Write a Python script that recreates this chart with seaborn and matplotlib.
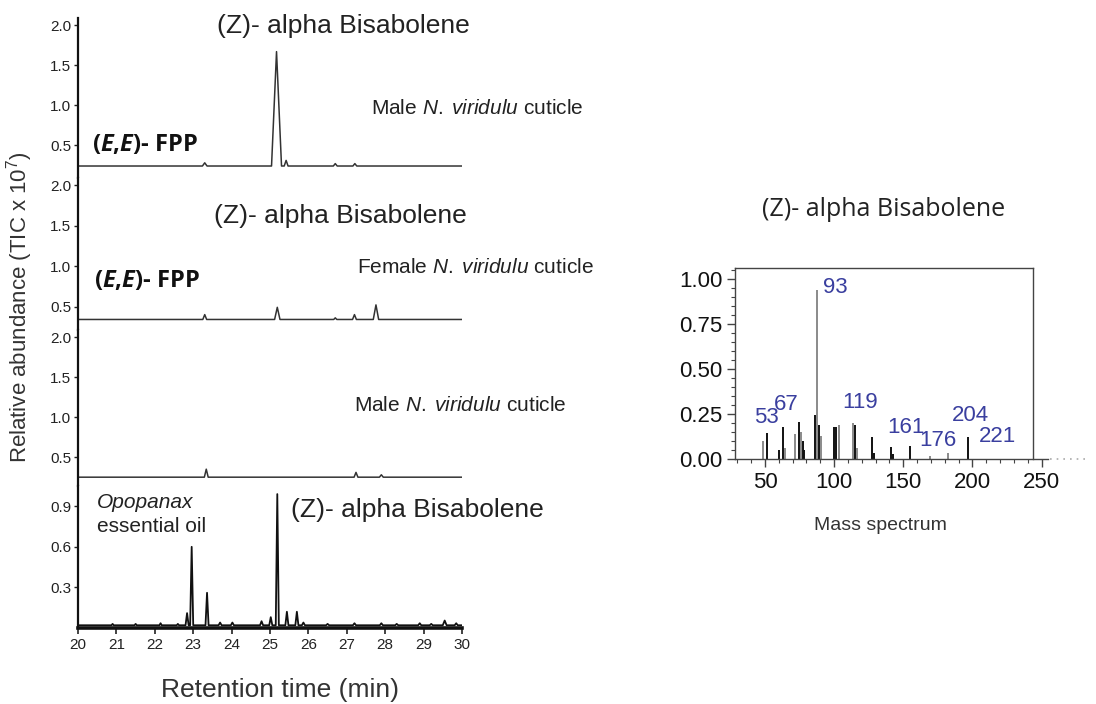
import numpy as np
import pandas as pd
import matplotlib
matplotlib.use("Agg")
import matplotlib.pyplot as plt
import seaborn as sns

# chromatogram peaks: apex retention time (min), apex height (TIC x 1e7), half width (min)
male_top_base = 0.24
male_top_rt = [23.3, 25.17, 25.42, 26.7, 27.21]
male_top_height = [0.28, 1.67, 0.31, 0.27, 0.27]
male_top_half = [0.06, 0.13, 0.05, 0.05, 0.05]

female_base = 0.34
female_rt = [23.3, 25.19, 26.7, 27.2, 27.76]
female_height = [0.40, 0.49, 0.36, 0.40, 0.52]
female_half = [0.05, 0.07, 0.04, 0.05, 0.07]

male_bottom_base = 0.25
male_bottom_rt = [23.34, 27.24, 27.9]
male_bottom_height = [0.35, 0.31, 0.28]
male_bottom_half = [0.05, 0.05, 0.05]

oil_base = 0.02
oil_rt = [20.9, 21.5, 22.15, 22.6, 22.84, 22.96, 23.36, 23.7, 24.02, 24.78, 25.02, 25.19,
          25.44, 25.7, 25.87, 26.5, 27.2, 27.9, 28.3, 28.9, 29.2, 29.55, 29.85]
oil_height = [0.03, 0.03, 0.035, 0.03, 0.11, 0.60, 0.26, 0.04, 0.04, 0.05, 0.08, 0.99,
              0.12, 0.12, 0.04, 0.03, 0.035, 0.035, 0.03, 0.035, 0.03, 0.055, 0.035]
oil_half = [0.03, 0.03, 0.03, 0.03, 0.04, 0.04, 0.04, 0.04, 0.04, 0.04, 0.04, 0.04,
            0.04, 0.04, 0.04, 0.04, 0.04, 0.04, 0.04, 0.04, 0.04, 0.05, 0.04]

# mass spectrum, black and grey stick series (m/z, relative intensity)
ms_black_mz = [51.2, 60.4, 63.2, 74.6, 77.2, 78.2, 86.4, 88.8, 100.1, 101.1, 115.1,
               127.2, 128.8, 140.9, 142.4, 154.8, 197.0]
ms_black_int = [0.145, 0.05, 0.175, 0.205, 0.10, 0.05, 0.245, 0.19, 0.175, 0.175, 0.19,
                0.12, 0.035, 0.065, 0.03, 0.07, 0.12]
ms_grey_mz = [48.3, 64.7, 71.7, 76.0, 87.8, 90.5, 103.5, 113.4, 116.8, 169.3, 182.1]
ms_grey_int = [0.10, 0.06, 0.14, 0.15, 0.94, 0.13, 0.19, 0.20, 0.06, 0.015, 0.035]
ms_labels = ["93", "53", "67", "119", "161", "176", "204", "221"]


def trace(base, rt, height, half):
    t, s = [20.0], [base]
    for r, h, w in zip(rt, height, half):
        t += [r - w, r, r + w]
        s += [base, h, base]
    t.append(30.0)
    s.append(base)
    return pd.DataFrame({"rt": t, "signal": s})


sns.set_style("ticks")
plt.rcParams["font.family"] = ["Liberation Sans", "DejaVu Sans"]
plt.rcParams["mathtext.fontset"] = "custom"
plt.rcParams["mathtext.rm"] = "Liberation Sans"
plt.rcParams["mathtext.it"] = "Liberation Sans:italic"
plt.rcParams["mathtext.bf"] = "Liberation Sans:bold"
plt.rcParams["mathtext.bfit"] = "Open Sans:italic:bold"

fig = plt.figure(figsize=(10.96, 7.04), dpi=100)
gs = fig.add_gridspec(4, 1, left=0.0712, right=0.4215, top=0.9744, bottom=0.108,
                      hspace=0, height_ratios=[160, 152, 156, 142])
axes = [fig.add_subplot(gs[i]) for i in range(4)]

traces = [
    trace(male_top_base, male_top_rt, male_top_height, male_top_half),
    trace(female_base, female_rt, female_height, female_half),
    trace(male_bottom_base, male_bottom_rt, male_bottom_height, male_bottom_half),
    trace(oil_base, oil_rt, oil_height, oil_half),
]
ylims = [(0.09, 2.09), (0.21, 2.087), (0.14, 2.09), (0.0, 1.05)]
ink = "#222222"

for i, (ax, df) in enumerate(zip(axes, traces)):
    last = i == 3
    sns.lineplot(data=df, x="rt", y="signal", ax=ax, color="#111111" if last else "#333333",
                 lw=1.3 if last else 1.1, estimator=None, sort=False)
    ax.set_xlim(20, 30)
    ax.set_ylim(*ylims[i])
    ax.set_xlabel("")
    ax.set_ylabel("")
    for s in ["top", "right"]:
        ax.spines[s].set_visible(False)
    ax.spines["left"].set_linewidth(1.6)
    ax.spines["left"].set_color("#111111")
    ax.tick_params(axis="y", labelsize=11, length=3, width=1, colors=ink, pad=2)
    if last:
        ax.set_yticks([0.3, 0.6, 0.9])
        ax.set_xticks(range(20, 31))
        ax.spines["bottom"].set_linewidth(2.6)
        ax.spines["bottom"].set_color("#111111")
        ax.tick_params(axis="x", labelsize=11, length=4, width=1.2, colors=ink, pad=3)
    else:
        ax.set_yticks([0.5, 1.0, 1.5, 2.0])
        ax.spines["bottom"].set_visible(False)
        ax.tick_params(axis="x", bottom=False, labelbottom=False)

title_kw = dict(fontsize=19, color=ink, va="baseline")
male_txt = r"Male $\mathit{N.\;viridulu}$ cuticle"
fpp_txt = r"($\mathbfit{E}$,$\mathbfit{E}$)- FPP"
fpp_kw = dict(fontsize=17, family="Open Sans", fontweight="bold", color="#111111", va="baseline")

axes[0].text(23.62, 1.90, "(Z)- alpha Bisabolene", **title_kw)
axes[0].text(27.63, 0.89, male_txt, fontsize=15, color=ink, va="baseline")
axes[0].text(20.36, 0.43, fpp_txt, **fpp_kw)

axes[1].text(23.53, 1.53, "(Z)- alpha Bisabolene", **title_kw)
axes[1].text(27.27, 0.92, r"Female $\mathit{N.\;viridulu}$ cuticle", fontsize=15, color=ink,
             va="baseline")
axes[1].text(20.42, 0.74, fpp_txt, **fpp_kw)

axes[2].text(27.2, 1.08, male_txt, fontsize=15, color=ink, va="baseline")

axes[3].text(20.49, 0.887, "Opopanax", fontsize=15, style="italic", color=ink, va="baseline")
axes[3].text(20.49, 0.706, "essential oil", fontsize=15, color=ink, va="baseline")
axes[3].text(25.55, 0.824, "(Z)- alpha Bisabolene", **title_kw)

fig.text(0.018, 1 - 307 / 704, "Relative abundance (TIC x 10$^7$)", rotation=90,
         ha="center", va="center", fontsize=16, color="#333333")
fig.text(280 / 1096, 1 - 690 / 704, "Retention time (min)", ha="center", va="center",
         fontsize=19, color="#333333")

# mass spectrum panel
ax5 = fig.add_axes([0.6706, 0.348, 0.9562 - 0.6706, 0.6193 - 0.348])
ax5.vlines(ms_grey_mz, 0, ms_grey_int, color="#8a8a8a", lw=1.4)
ax5.vlines(ms_black_mz, 0, ms_black_int, color="#111111", lw=1.4)
ax5.set_xlim(28.3, 254.6)
ax5.set_ylim(0, 1.06)
ax5.set_xticks([50, 100, 150, 200, 250])
ax5.set_xticks(np.arange(30, 255, 10), minor=True)
ax5.set_yticks([0, 0.25, 0.5, 0.75, 1.0])
ax5.set_yticks(np.arange(0, 1.06, 0.05), minor=True)
ax5.set_yticklabels(["0.00", "0.25", "0.50", "0.75", "1.00"])
ax5.tick_params(which="major", labelsize=16, length=6, width=1, colors="#444444",
                labelcolor="#111111", pad=3)
ax5.tick_params(which="minor", length=3, width=0.8, colors="#444444")
for s in ax5.spines.values():
    s.set_color("#444444")
    s.set_linewidth(1.0)
ax5.spines["right"].set_position(("data", 244))
ax5.spines["top"].set_bounds(28.3, 244)
ax5.plot([256, 282], [0, 0], ls=(0, (1, 3)), color="#aaaaaa", lw=1.2, clip_on=False)

label_x = [100.5, 51, 65.5, 118.5, 151.6, 174.7, 198.6, 217.9]
label_y = [0.95, 0.228, 0.305, 0.315, 0.176, 0.105, 0.244, 0.126]
for lab, x, y in zip(ms_labels, label_x, label_y):
    ax5.text(x, y, lab, ha="center", va="center", fontsize=16, color="#3a3f9f")

fig.text(884 / 1096, 1 - 210 / 704, "(Z)- alpha Bisabolene", family="Open Sans",
         ha="center", va="center", fontsize=18, color="#222222")
fig.text(880 / 1096, 1 - 525 / 704, "Mass spectrum", ha="center", va="center",
         fontsize=14, color="#333333")

fig.savefig("out.png", dpi=100)
